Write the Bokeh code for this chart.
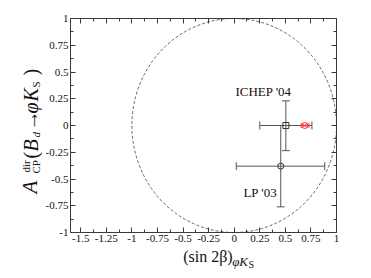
import math
from bokeh.plotting import figure
from bokeh.layouts import row, column
from bokeh.models import (LinearAxis, FixedTicker, Range1d, Label, Whisker,
                          TeeHead, ColumnDataSource)
from bokeh.embed import file_html
from bokeh.resources import INLINE

# ---------------- data ----------------
x_ticks = [-1.5, -1.25, -1.0, -0.75, -0.5, -0.25, 0.0, 0.25, 0.5, 0.75, 1.0]
x_tick_labels = ["-1.5", "-1.25", "-1", "-0.75", "-0.5", "-0.25", "0", "0.25", "0.5", "0.75", "1"]
y_ticks = [-1.0, -0.75, -0.5, -0.25, 0.0, 0.25, 0.5, 0.75, 1.0]
y_tick_labels = ["-1", "-0.75", "-0.5", "-0.25", "0", "0.25", "0.5", "0.75", "1"]

meas_names = ["ICHEP '04", "LP '03"]
meas_s2b = [0.505, 0.455]
meas_s2b_lo = [0.25, 0.02]
meas_s2b_hi = [0.76, 0.885]
meas_acp = [0.0, -0.38]
meas_acp_lo = [-0.235, -0.76]
meas_acp_hi = [0.23, 0.0]
meas_markers = ["square", "circle"]

sm_s2b = [0.69]
sm_s2b_lo = [0.655]
sm_s2b_hi = [0.73]
sm_acp = [0.0]

circle_x = [0.0]
circle_y = [0.0]
circle_diameter = [2.0]

name_label_x = [0.012, 0.09]
name_label_y = [0.318, -0.622]

# ---------------- styling ----------------
FONT = "Liberation Serif"
AX = "#3a3a3a"
BAR = "#555555"
RED = "#ff3030"
TXT = "#111111"

YL_W = 42
TOTAL_H = 270
MAIN_W, MAIN_H = 321, 247
XL_H = TOTAL_H - MAIN_H
BL, BR = 25, 27   # main figure left / right borders

p = figure(width=MAIN_W, height=MAIN_H, x_range=Range1d(-1.6, 1.0), y_range=Range1d(-1.0, 1.0),
           output_backend="svg", toolbar_location=None,
           min_border_left=BL, min_border_right=BR, min_border_top=18, min_border_bottom=15)
p.grid.visible = False
p.outline_line_color = AX


def minors(t):
    return [(a + b) / 2 for a, b in zip(t[:-1], t[1:])]


def style_axis(ax, ticks, labels, show_labels):
    ax.ticker = FixedTicker(ticks=ticks, minor_ticks=minors(ticks))
    ax.major_label_overrides = {t: (l if show_labels else "") for t, l in zip(ticks, labels)}
    ax.axis_line_color = AX
    ax.major_tick_line_color = AX
    ax.minor_tick_line_color = AX
    ax.major_tick_in = 5
    ax.major_tick_out = 0
    ax.minor_tick_in = 3
    ax.minor_tick_out = 0
    ax.major_label_text_font = FONT
    ax.major_label_text_font_size = "11px" if show_labels else "1px"
    ax.major_label_text_color = TXT
    ax.major_label_standoff = 2 if show_labels else 0


style_axis(p.xaxis[0], x_ticks, x_tick_labels, True)
style_axis(p.yaxis[0], y_ticks, y_tick_labels, True)
top = LinearAxis()
right = LinearAxis()
style_axis(top, x_ticks, x_tick_labels, False)
style_axis(right, y_ticks, y_tick_labels, False)
p.add_layout(top, "above")
p.add_layout(right, "right")

p.ellipse(x=circle_x, y=circle_y, width=circle_diameter, height=circle_diameter,
          fill_color=None, line_color="#666666", line_dash="3 2", line_width=1)

src = ColumnDataSource(dict(x=meas_s2b, xlo=meas_s2b_lo, xhi=meas_s2b_hi,
                            y=meas_acp, ylo=meas_acp_lo, yhi=meas_acp_hi,
                            m=meas_markers, name=meas_names))


def tee(size, color):
    return TeeHead(size=size, line_color=color, line_width=1)


p.add_layout(Whisker(base="y", lower="xlo", upper="xhi", dimension="width", source=src,
                     line_color=BAR, line_width=1, lower_head=tee(8, BAR), upper_head=tee(8, BAR)))
p.add_layout(Whisker(base="x", lower="ylo", upper="yhi", dimension="height", source=src,
                     line_color=BAR, line_width=1, lower_head=tee(8, BAR), upper_head=tee(8, BAR)))
p.scatter(x="x", y="y", marker="m", source=src, size=6, fill_color=None,
          line_color="#333333", line_width=1)

src_sm = ColumnDataSource(dict(x=sm_s2b, xlo=sm_s2b_lo, xhi=sm_s2b_hi, y=sm_acp))
p.add_layout(Whisker(base="y", lower="xlo", upper="xhi", dimension="width", source=src_sm,
                     line_color=RED, line_width=1, lower_head=tee(5, RED), upper_head=tee(5, RED)))
p.scatter(x="x", y="y", source=src_sm, marker="circle_x", size=6, fill_color=None,
          line_color=RED, line_width=1)

for nm, lx, ly in zip(meas_names, name_label_x, name_label_y):
    p.add_layout(Label(x=lx, y=ly, text=nm, text_font=FONT, text_font_size="13px",
                       text_color=TXT, text_align="left", text_baseline="middle"))


# ---------------- axis titles in side strips (strip data units == page pixels) ----------------
def strip(w, h, x0, x1, y_top, y_bot, bl=0, br=0):
    f = figure(width=w, height=h, output_backend="svg", toolbar_location=None,
               x_range=Range1d(x0, x1), y_range=Range1d(y_bot, y_top),
               x_axis_location=None, y_axis_location=None,
               min_border=0, min_border_left=bl, min_border_right=br,
               min_border_top=0, min_border_bottom=0)
    f.title.visible = False
    f.grid.visible = False
    f.outline_line_color = None
    return f


ylab = strip(YL_W, TOTAL_H, 0, YL_W, 0, TOTAL_H)
xlab = strip(MAIN_W, XL_H, YL_W + BL, YL_W + MAIN_W - BR, MAIN_H, TOTAL_H, BL, BR)


def put(fig, text, xb, yb, size, italic=False, rotated=False):
    # (xb, yb): page position of the left end of the text baseline
    k = 0.34 * size
    if rotated:
        x, y, ang = xb - k, yb, math.pi / 2
    else:
        x, y, ang = xb, yb - k, 0.0
    fig.add_layout(Label(x=x, y=y, text=text, text_font=FONT, text_font_size=f"{size}px",
                         text_font_style="italic" if italic else "normal",
                         text_color=TXT, text_align="left",
                         text_baseline="middle", angle=ang))


MB, SB, UB = 37.0, 39.3, 29.0   # main / subscript / superscript baselines (page x)
put(ylab, "A", MB, 193, 21, True, True)
put(ylab, "dir", UB, 172, 11, False, True)
put(ylab, "CP", SB, 173, 11, False, True)
put(ylab, "(", MB, 158, 20, False, True)
put(ylab, "B", MB, 151, 20, True, True)
put(ylab, "d", SB, 137, 11, True, True)
put(ylab, "\u2192", MB, 130, 20, False, True)
put(ylab, "\u03c6", MB, 113, 20, True, True)
put(ylab, "K", MB, 101, 20, True, True)
put(ylab, "S", SB, 87, 11, False, True)
put(ylab, ")", MB, 75, 20, False, True)

put(xlab, "(sin 2\u03b2)", 181, 261, 16)
put(xlab, "\u03c6K", 230.5, 265, 13, True)
put(xlab, "S", 247, 267.5, 10)

layout = row(ylab, column(p, xlab, spacing=0), spacing=0)
open("out.html", "w").write(file_html(layout, INLINE))
